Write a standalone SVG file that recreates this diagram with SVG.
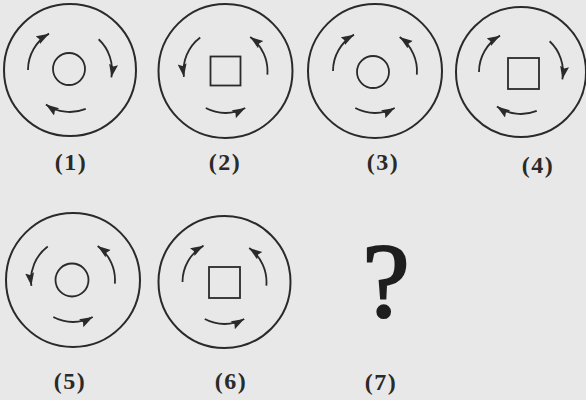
<svg xmlns="http://www.w3.org/2000/svg" width="586" height="400" viewBox="0 0 586 400">
<style>
.outer{fill:none;stroke:#2a2a2a;stroke-width:2}
.inner{fill:none;stroke:#2a2a2a;stroke-width:1.8}
.arc{fill:none;stroke:#2a2a2a;stroke-width:1.8;marker-end:url(#ah)}
.lbl{font-family:"Liberation Serif","DejaVu Serif",serif;font-size:24px;font-weight:bold;fill:#2a2a2a;text-anchor:middle;letter-spacing:1.5px}
.q{font-family:"Liberation Serif","DejaVu Serif",serif;font-size:106px;fill:#1e1e1e;stroke:#1e1e1e;stroke-width:2.2;text-anchor:middle}
</style>
<defs>
<marker id="ah" markerUnits="userSpaceOnUse" markerWidth="14" markerHeight="10" refX="13" refY="4.5" orient="auto">
<path d="M0,0 L13,4.5 L0,9 L2,4.5 z" fill="#2a2a2a"/>
</marker>
<path id="cwL" d="M -42 0 A 42 42 0 0 1 -21 -36.37"/>
<path id="cwR" d="M 28.64 -30.72 A 42 42 0 0 1 41.36 7.29"/>
<path id="cwB" d="M 15.73 38.94 A 42 42 0 0 1 -24.09 34.40"/>
<path id="ccwL" d="M -25.28 -33.54 A 42 42 0 0 0 -41.59 5.85"/>
<path id="ccwR" d="M 41.84 3.66 A 42 42 0 0 0 24.69 -33.98"/>
<path id="ccwB" d="M -19.72 37.08 A 42 42 0 0 0 19.72 37.08"/>
</defs>
<rect x="0" y="0" width="586" height="400" fill="#e8e8e8"/>

<g id="fig1" transform="translate(70,70)">
<circle class="outer" r="66"/>
<circle class="inner" cx="-1" cy="-1" r="16"/>
<use href="#cwL" class="arc"/>
<use href="#cwR" class="arc"/>
<use href="#cwB" class="arc"/>
</g>
<g id="fig2" transform="translate(225.5,71)">
<circle class="outer" r="67"/>
<rect class="inner" x="-15" y="-14.5" width="30" height="29"/>
<use href="#ccwL" class="arc"/>
<use href="#ccwR" class="arc"/>
<use href="#ccwB" class="arc"/>
</g>
<g id="fig3" transform="translate(375,71)">
<circle class="outer" r="67"/>
<circle class="inner" cx="-2" cy="1" r="16"/>
<use href="#cwL" class="arc"/>
<use href="#ccwR" class="arc"/>
<use href="#ccwB" class="arc"/>
</g>
<g id="fig4" transform="translate(521,72)">
<circle class="outer" r="65"/>
<rect class="inner" x="-13" y="-14" width="31" height="31"/>
<use href="#cwL" class="arc"/>
<use href="#cwR" class="arc"/>
<use href="#cwB" class="arc"/>
</g>
<g id="fig5" transform="translate(73,280)">
<circle class="outer" r="67"/>
<circle class="inner" cx="-1" cy="0" r="16.5"/>
<use href="#ccwL" class="arc"/>
<use href="#ccwR" class="arc"/>
<use href="#ccwB" class="arc"/>
</g>
<g id="fig6" transform="translate(224.5,282)">
<circle class="outer" r="66"/>
<rect class="inner" x="-15.5" y="-15" width="31" height="31"/>
<use href="#cwL" class="arc"/>
<use href="#ccwR" class="arc"/>
<use href="#ccwB" class="arc"/>
</g>
<g id="fig7">
<text class="q" x="386" y="317">?</text>
</g>

<g id="labels">
<text class="lbl" x="71" y="170">(1)</text>
<text class="lbl" x="225" y="170">(2)</text>
<text class="lbl" x="383" y="170">(3)</text>
<text class="lbl" x="538" y="173">(4)</text>
<text class="lbl" x="70" y="389">(5)</text>
<text class="lbl" x="231" y="389">(6)</text>
<text class="lbl" x="381" y="390">(7)</text>
</g>
</svg>
